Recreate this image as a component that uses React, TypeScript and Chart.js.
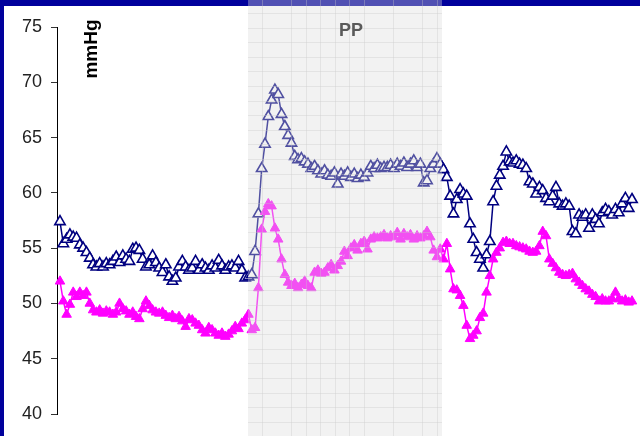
import { useEffect, useRef } from "react";
import { Chart, registerables } from "chart.js";

Chart.register(...registerables);

// ---- data ----
const UPPER_SERIES: number[] = [
  57.4, 55.4, 55.8, 56.2, 56.0, 55.9, 55.3, 55.0, 54.6, 54.1,
  53.5, 53.3, 53.6, 53.3, 53.6, 53.5, 53.8, 54.2, 53.7, 54.3,
  54.0, 53.8, 54.9, 55.0, 54.8, 54.0, 53.3, 53.5, 54.3, 53.7,
  53.2, 52.8, 53.5, 52.4, 52.0, 52.3, 53.3, 53.8, 53.3, 53.0,
  53.2, 53.8, 53.0, 53.5, 53.2, 53.0, 53.4, 53.2, 53.9, 53.4,
  53.0, 53.3, 53.4, 53.2, 53.8, 53.0, 52.3, 52.4, 52.6, 54.7,
  58.1, 62.2, 64.4, 66.9, 68.4, 69.3, 68.9, 67.1, 66.0, 65.2,
  64.5, 63.3, 63.0, 63.1, 62.8, 62.6, 62.2, 62.4, 62.0, 61.7,
  62.0, 61.6, 61.5, 61.8, 60.8, 61.7, 61.5, 61.8, 61.4, 61.7,
  61.3, 61.6, 61.4, 61.8, 62.4, 62.2, 62.5, 62.2, 62.3, 62.3,
  62.5, 62.2, 62.6, 62.4, 62.7, 62.3, 62.6, 62.9, 62.3, 62.6,
  60.9, 61.1, 62.2, 62.6, 63.1, 62.6, 62.1, 61.4, 59.7, 58.1,
  59.4, 60.3, 59.9, 59.7, 57.2, 55.8, 54.6, 54.0, 53.2, 54.4,
  55.6, 59.2, 60.6, 61.6, 62.4, 63.7, 62.8, 62.7, 62.9, 62.6,
  62.5, 62.2, 61.0, 60.8, 59.9, 60.5, 60.2, 59.5, 59.2, 59.7,
  60.5, 59.0, 58.8, 59.0, 58.8, 56.5, 56.3, 58.0, 57.8, 58.0,
  56.8, 58.0, 57.6, 57.2, 58.2, 58.5, 58.3, 58.0, 58.5, 58.2,
  59.0, 59.5, 58.6, 59.4,
];

const LOWER_SERIES: number[] = [
  52.0, 50.2, 49.0, 49.9, 51.0, 50.6, 51.0, 50.7, 51.0, 50.0,
  49.4, 49.2, 49.4, 49.1, 49.3, 49.2, 49.0, 49.2, 50.0, 49.5,
  49.3, 49.0, 49.2, 48.8, 48.6, 49.5, 50.2, 49.8, 49.4, 49.2,
  49.1, 49.2, 48.9, 48.7, 48.9, 48.6, 48.8, 48.4, 47.9, 48.6,
  48.5, 48.2, 48.0, 47.6, 47.3, 47.8, 47.6, 47.3, 47.1, 47.3,
  47.0, 47.2, 47.5, 47.9, 47.7, 48.2, 48.5, 49.0, 47.6, 47.8,
  51.4, 56.7, 58.3, 59.0, 58.8, 56.8, 55.8, 54.0, 52.6, 51.9,
  51.6, 51.8, 51.4, 51.7, 52.0, 51.6, 51.4, 52.8, 53.0, 52.7,
  52.8, 53.2, 53.5, 53.0, 53.4, 53.8, 54.7, 54.3, 55.0, 55.3,
  54.8, 55.4, 55.6, 54.9, 55.8, 56.0, 55.9, 56.0, 56.2, 55.9,
  56.1, 56.0, 56.4, 55.8, 56.3, 56.0, 56.2, 55.8, 56.1, 55.9,
  56.1, 56.5, 56.0, 54.8, 54.2, 54.9, 54.0, 55.4, 53.1, 51.3,
  51.2, 50.7, 49.8, 48.0, 46.8, 47.1, 47.5, 48.7, 49.1, 51.0,
  52.5, 54.0, 54.6, 55.0, 55.5, 55.6, 55.4, 55.4, 55.2, 55.1,
  55.0, 54.9, 54.7, 54.6, 54.7, 55.2, 56.5, 56.1, 54.0, 53.6,
  53.2, 52.8, 52.6, 52.5, 52.6, 52.7, 52.2, 51.9, 51.6, 51.3,
  51.1, 50.8, 50.6, 50.2, 50.4, 50.2, 50.2, 50.4, 51.0, 50.4,
  50.2, 50.3, 50.1, 50.2,
];

const Y_TICKS: number[] = [40, 45, 50, 55, 60, 65, 70, 75];
const Y_UNIT = "mmHg";
const PHASE_LABEL = "PP";
const PHASE_START = 56.95; // sample index where the shaded phase begins
const PHASE_END = 115.45; // sample index where the shaded phase ends

// ---- styles / layout ----
const NAVY = "#000080";
const MAGENTA = "#ff00ff";
const FRAME = "#00009c";
const FONT = "'Liberation Sans', Arial, sans-serif";
const PHASE_GRID_X = [14.4, 43.4, 58.4, 72.4, 87, 101, 116.4, 145, 174, 189];
const FIRST_SAMPLE_PX = 60; // pixel of first sample
const LAST_SAMPLE_PX = 632; // pixel of last sample

const framePlugin = {
  id: "frame",
  beforeDraw(chart: any) {
    const { ctx, width, height } = chart;
    ctx.save();
    ctx.fillStyle = "#ffffff";
    ctx.fillRect(0, 0, width, height);
    ctx.fillStyle = FRAME;
    ctx.fillRect(0, 0, width, 6);
    ctx.fillRect(0, 0, 4, height);
    ctx.restore();
  },
  afterDatasetsDraw(chart: any) {
    const { ctx, height } = chart;
    const xs = chart.scales.x;
    const left = Math.round(xs.getPixelForValue(PHASE_START));
    const right = Math.round(xs.getPixelForValue(PHASE_END));
    ctx.save();
    ctx.fillStyle = "rgba(219,219,219,0.365)";
    ctx.fillRect(left, 0, right - left, height);
    ctx.strokeStyle = "rgba(200,200,200,0.35)";
    ctx.lineWidth = 1;
    ctx.beginPath();
    for (const off of PHASE_GRID_X) {
      const x = Math.round(left + off) + 0.5;
      ctx.moveTo(x, 0);
      ctx.lineTo(x, height);
    }
    for (let y = 13; y < height; y += 14.6) {
      const yy = Math.round(y) + 0.5;
      ctx.moveTo(left, yy);
      ctx.lineTo(right, yy);
    }
    ctx.stroke();
    ctx.fillStyle = "#5a5a5a";
    ctx.font = `bold 18px ${FONT}`;
    ctx.textAlign = "center";
    ctx.textBaseline = "middle";
    ctx.fillText(PHASE_LABEL, (left + right) / 2 + 6, 31);
    ctx.restore();

    ctx.save();
    ctx.translate(92, 49);
    ctx.rotate(-Math.PI / 2);
    ctx.fillStyle = "#000000";
    ctx.font = `bold 19px ${FONT}`;
    ctx.textAlign = "center";
    ctx.textBaseline = "middle";
    ctx.fillText(Y_UNIT, 0, 0);
    ctx.restore();
  },
};

export default function App() {
  const ref = useRef<HTMLCanvasElement | null>(null);

  useEffect(() => {
    if (!ref.current) return;
    const upper = UPPER_SERIES.map((v, i) => ({ x: i, y: v }));
    const lower = LOWER_SERIES.map((v, i) => ({ x: i, y: v }));
    const chart: any = new Chart(ref.current, {
      type: "line",
      data: {
        datasets: [
          {
            label: "lower",
            data: lower,
            borderColor: MAGENTA,
            backgroundColor: MAGENTA,
            borderWidth: 1.5,
            pointStyle: "triangle",
            pointRadius: 5.5,
            pointBorderWidth: 1,
            pointBackgroundColor: MAGENTA,
            pointBorderColor: MAGENTA,
            tension: 0,
            clip: false,
          },
          {
            label: "upper",
            data: upper,
            borderColor: NAVY,
            backgroundColor: "#ffffff",
            borderWidth: 1.5,
            pointStyle: "triangle",
            pointRadius: 6,
            pointBorderWidth: 1.6,
            pointBackgroundColor: "#ffffff",
            pointBorderColor: NAVY,
            tension: 0,
            clip: false,
          },
        ],
      },
      options: {
        responsive: false,
        animation: false,
        devicePixelRatio: 1,
        layout: { padding: { top: 27, bottom: 22, left: 0, right: 4 } },
        plugins: { legend: { display: false }, tooltip: { enabled: false } },
        scales: {
          x: {
            type: "linear",
            display: false,
            min: -0.9,
            max: 174.2,
          },
          y: {
            min: 40,
            max: 75,
            afterBuildTicks: (scale: any) => {
              scale.ticks = Y_TICKS.map((v) => ({ value: v }));
            },
            afterFit: (scale: any) => {
              scale.width = 57;
            },
            ticks: {
              color: "#222222",
              font: { family: FONT, size: 18 },
              padding: 9,
            },
            grid: {
              display: true,
              drawOnChartArea: false,
              drawTicks: true,
              tickLength: 6,
              color: "#333333",
            },
            border: { display: true, color: "#000000", width: 1 },
          },
        },
      },
      plugins: [framePlugin],
    });
    // fit the sample axis so the samples span the intended pixel range
    const area = chart.chartArea;
    const n = UPPER_SERIES.length - 1;
    const ppi = (LAST_SAMPLE_PX - FIRST_SAMPLE_PX) / n;
    const min = -(FIRST_SAMPLE_PX - area.left) / ppi;
    const max = min + (area.right - area.left) / ppi;
    chart.options.scales.x.min = min;
    chart.options.scales.x.max = max;
    chart.update();
    return () => chart.destroy();
  }, []);

  return (
    <div style={{ position: "fixed", left: 0, top: 0, width: 640, height: 436 }}>
      <canvas ref={ref} width={640} height={436} style={{ display: "block" }} />
    </div>
  );
}
